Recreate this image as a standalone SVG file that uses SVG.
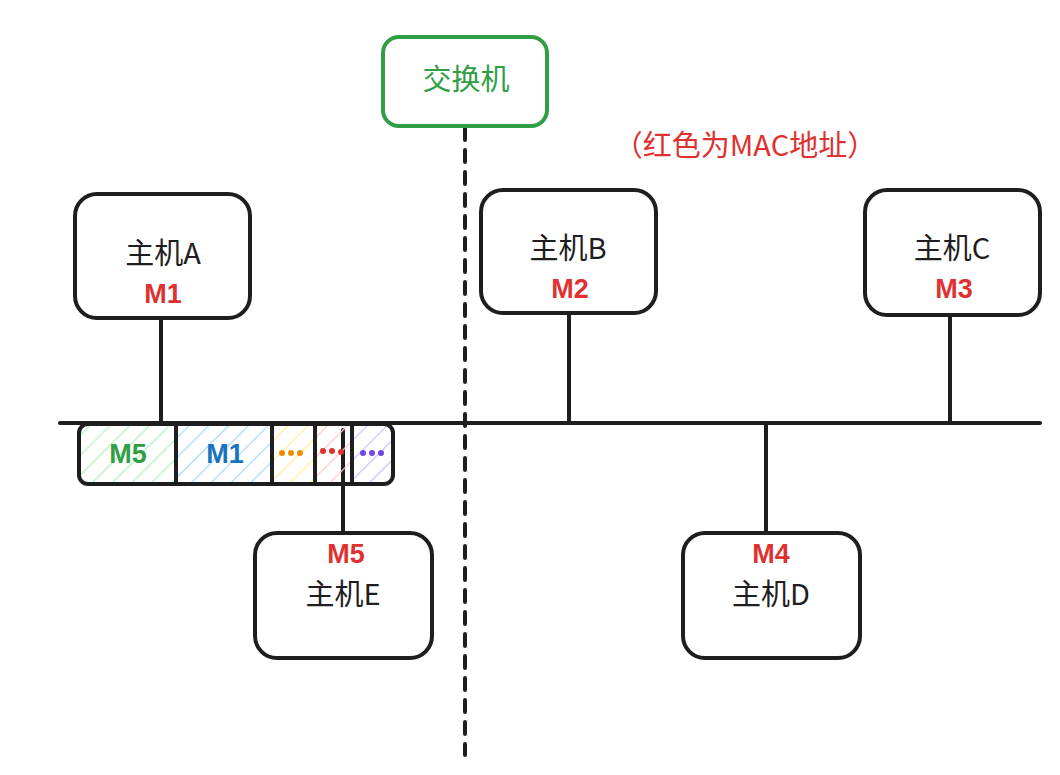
<svg xmlns="http://www.w3.org/2000/svg" width="1060" height="775" viewBox="0 0 1060 775">
<style>
.box{fill:#fff;stroke:#1e1e1e;stroke-width:4;stroke-linejoin:round}
.ln{stroke:#1e1e1e;stroke-width:4;fill:none;stroke-linecap:round}
.t{font-family:"Noto Sans CJK SC","Liberation Sans",sans-serif;font-size:29px;fill:#1e1e1e;text-anchor:middle}
.m{font-family:"Liberation Sans","Noto Sans CJK SC",sans-serif;font-size:27px;fill:#e03131;text-anchor:middle;font-weight:bold}
.cell{font-family:"Liberation Sans",sans-serif;font-size:27px;text-anchor:middle;font-weight:bold}
</style>
<defs>
<pattern id="hg" width="14" height="14" patternUnits="userSpaceOnUse" patternTransform="rotate(45)"><line x1="0" y1="0" x2="0" y2="14" stroke="#b2f2bb" stroke-width="2.5"/></pattern>
<pattern id="hb" width="14" height="14" patternUnits="userSpaceOnUse" patternTransform="rotate(45)"><line x1="0" y1="0" x2="0" y2="14" stroke="#a5d8ff" stroke-width="2.5"/></pattern>
<pattern id="hy" width="14" height="14" patternUnits="userSpaceOnUse" patternTransform="rotate(45)"><line x1="0" y1="0" x2="0" y2="14" stroke="#ffec99" stroke-width="2.5"/></pattern>
<pattern id="hr" width="14" height="14" patternUnits="userSpaceOnUse" patternTransform="rotate(45)"><line x1="0" y1="0" x2="0" y2="14" stroke="#ffc9c9" stroke-width="2.5"/></pattern>
<pattern id="hp" width="14" height="14" patternUnits="userSpaceOnUse" patternTransform="rotate(45)"><line x1="0" y1="0" x2="0" y2="14" stroke="#d0bfff" stroke-width="2.5"/></pattern>
</defs>
<rect width="1060" height="775" fill="#fff"/>
<g id="connectors">
<line class="ln" x1="465" y1="128" x2="465" y2="755" stroke-dasharray="12 10"/>
<line class="ln" x1="60" y1="423" x2="1040" y2="423"/>
<line class="ln" x1="161" y1="318" x2="161" y2="423"/>
<line class="ln" x1="569" y1="313" x2="569" y2="423"/>
<line class="ln" x1="950" y1="315" x2="950" y2="423"/>
<line class="ln" x1="766" y1="423" x2="766" y2="533"/>
<line class="ln" x1="343" y1="430" x2="343" y2="533"/>
</g>
<g id="frame">
<rect x="79" y="424" width="97" height="60" fill="url(#hg)"/>
<rect x="176" y="424" width="96" height="60" fill="url(#hb)"/>
<rect x="272" y="424" width="43" height="60" fill="url(#hy)"/>
<rect x="315" y="424" width="37" height="60" fill="url(#hr)"/>
<rect x="352" y="424" width="41" height="60" fill="url(#hp)"/>
<rect x="79" y="424" width="314" height="60" rx="9" fill="none" stroke="#1e1e1e" stroke-width="4"/>
<line class="ln" x1="176" y1="424" x2="176" y2="484"/>
<line class="ln" x1="272" y1="424" x2="272" y2="484"/>
<line class="ln" x1="315" y1="424" x2="315" y2="484"/>
<line class="ln" x1="352" y1="424" x2="352" y2="484"/>
<text class="cell" x="128" y="463" fill="#2f9e44">M5</text>
<text class="cell" x="225" y="463" fill="#1971c2">M1</text>
<g fill="#f08c00"><circle cx="282" cy="453" r="3"/><circle cx="291" cy="453" r="3"/><circle cx="300" cy="453" r="3"/></g>
<g fill="#e03131"><circle cx="323" cy="451" r="3"/><circle cx="332" cy="451" r="3"/><circle cx="341" cy="452" r="3"/></g>
<g fill="#7048e8"><circle cx="363" cy="453" r="3"/><circle cx="372" cy="453" r="3"/><circle cx="381" cy="453" r="3"/></g>
</g>
<g id="switch">
<rect x="383" y="37" width="164" height="89" rx="16" fill="#fff" stroke="#2f9e44" stroke-width="4"/>
<text class="t" x="466" y="90" style="fill:#2f9e44">交换机</text>
</g>
<g id="note">
<text x="745" y="156" font-family="Noto Sans CJK SC,Liberation Sans,sans-serif" font-size="29" fill="#e03131" text-anchor="middle">（红色为MAC地址）</text>
</g>
<g id="hostA">
<rect class="box" x="75" y="194" width="175" height="124" rx="22"/>
<text class="t" x="163" y="264">主机A</text>
<text class="m" x="163" y="303">M1</text>
</g>
<g id="hostB">
<rect class="box" x="481" y="190" width="175" height="123" rx="22"/>
<text class="t" x="568" y="259">主机B</text>
<text class="m" x="570" y="298">M2</text>
</g>
<g id="hostC">
<rect class="box" x="865" y="190" width="175" height="125" rx="22"/>
<text class="t" x="952" y="259">主机C</text>
<text class="m" x="954" y="298">M3</text>
</g>
<g id="hostD">
<rect class="box" x="683" y="533" width="177" height="125" rx="22"/>
<text class="m" x="771" y="563">M4</text>
<text class="t" x="771" y="605">主机D</text>
</g>
<g id="hostE">
<rect class="box" x="255" y="533" width="177" height="125" rx="22"/>
<text class="m" x="346" y="563">M5</text>
<text class="t" x="343" y="605">主机E</text>
</g>
</svg>
